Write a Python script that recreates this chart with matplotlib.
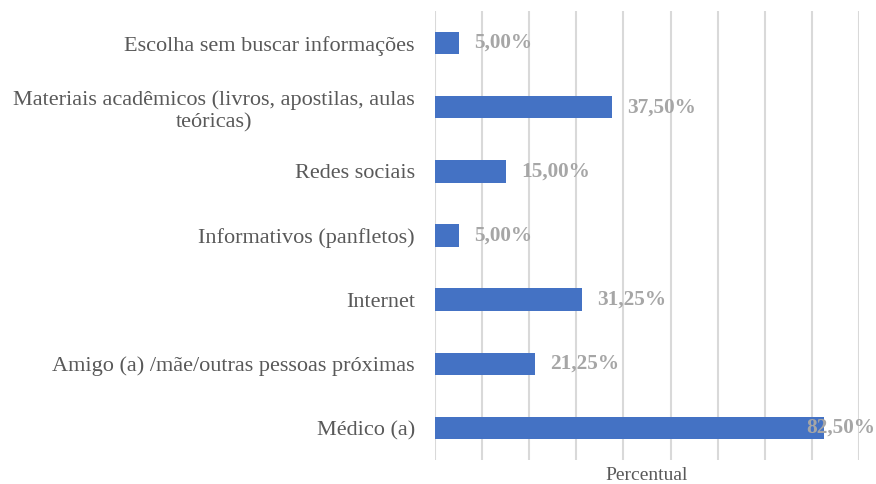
import matplotlib
matplotlib.use("Agg")
import matplotlib.pyplot as plt

categories = [
    "Médico (a)",
    "Amigo (a) /mãe/outras pessoas próximas",
    "Internet",
    "Informativos (panfletos)",
    "Redes sociais",
    "Materiais acadêmicos (livros, apostilas, aulas\nteóricas)",
    "Escolha sem buscar informações",
]
values = [82.50, 21.25, 31.25, 5.00, 15.00, 37.50, 5.00]
labels = ["82,50%", "21,25%", "31,25%", "5,00%", "15,00%", "37,50%", "5,00%"]
x_ticks = list(range(0, 91, 10))

plt.rcParams['font.family'] = ['Liberation Serif', 'DejaVu Serif']

fig = plt.figure(figsize=(8.76, 4.84), dpi=100)
ax = fig.add_axes([435/876, 1-460/484, (859-435)/876, (460-11)/484])

ypos = list(range(len(categories)))
ax.barh(ypos, values, height=0.35, color="#4472C4", zorder=3)
ax.set_xlim(0, 90)
ax.set_ylim(-0.5, len(categories) - 0.5)
ax.set_xticks(x_ticks)
ax.set_xticklabels([])
ax.grid(axis='x', color="#D9D9D9", linewidth=1.5, zorder=0)
ax.tick_params(axis='both', length=0)
ax.set_yticks(ypos)
ax.set_yticklabels(categories, fontsize=16, color="#595959",
                   multialignment='center', linespacing=1.2)
ax.tick_params(axis='y', pad=14.5)
ax.tick_params(axis='x', pad=0)
for s in ax.spines.values():
    s.set_visible(False)

ax.set_xlabel("Percentual", fontsize=14, color="#595959", labelpad=5)

texts = []
for y, v, lab in zip(ypos, values, labels):
    t = ax.annotate(lab, xy=(v, y), xytext=(11, 0), textcoords='offset points',
                    ha='left', va='center', fontsize=15.3, fontweight='bold',
                    color="#A6A6A6", zorder=4)
    texts.append(t)

fig.canvas.draw()
r = fig.canvas.get_renderer()
W = fig.bbox.width
for t in texts:
    bb = t.get_window_extent(r)
    if bb.x1 > W - 1:
        shift = (bb.x1 - (W - 1)) / fig.dpi * 72
        ox, oy = t.xyann
        t.xyann = (ox - shift, oy)

fig.savefig("out.png", dpi=100)
